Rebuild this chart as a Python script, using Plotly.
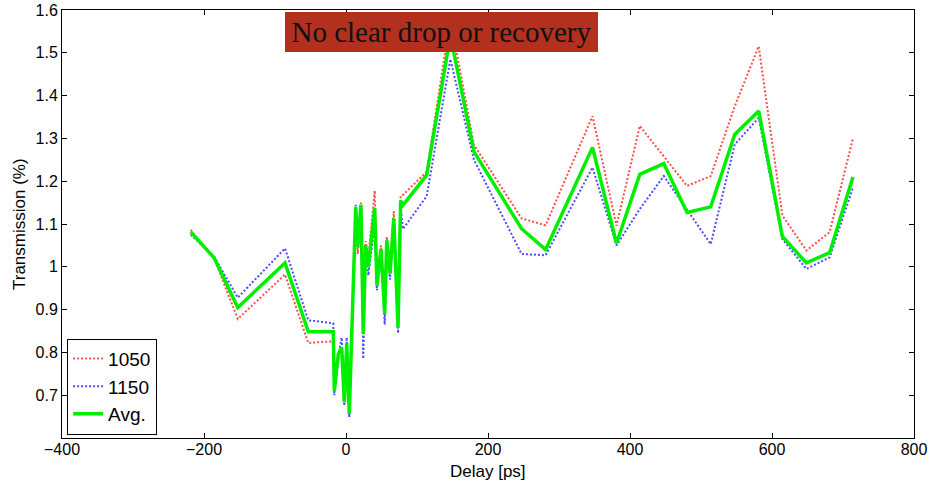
import plotly.graph_objects as go

delay_ps = [-218.6, -185.8, -152.4, -85.9, -53.1, -17.9, -16.5, -10.8, -6.1, -2.4,
            1.0, 4.6, 13.7, 16.5, 21.1, 24.3, 27.7, 31.4, 40.4, 43.6,
            49.3, 54.5, 57.4, 62.0, 67.3, 73.3, 77.0, 80.2, 113.6, 147.0,
            180.2, 247.3, 281.1, 347.2, 381.0, 413.8, 447.6, 480.4, 513.7, 547.5,
            581.3, 614.6, 648.4, 681.2, 714.0]

t_1050 = [1.086, 1.020, 0.878, 0.982, 0.822, 0.826, 0.720, 0.800, 0.800, 0.690,
          0.810, 0.665, 1.130, 1.030, 1.150, 0.900, 1.060, 1.020, 1.178, 0.970,
          1.050, 0.910, 1.070, 1.000, 1.130, 0.865, 1.165, 1.168, 1.222, 1.580,
          1.285, 1.113, 1.097, 1.352, 1.096, 1.329, 1.258, 1.189, 1.212, 1.375,
          1.515, 1.120, 1.038, 1.081, 1.300]

t_1150 = [1.075, 1.024, 0.928, 1.043, 0.875, 0.868, 0.700, 0.790, 0.835, 0.675,
          0.835, 0.648, 1.145, 1.060, 1.140, 0.785, 1.040, 0.980, 1.100, 0.945,
          1.035, 0.865, 1.050, 0.970, 1.100, 0.845, 1.140, 1.088, 1.165, 1.485,
          1.250, 1.030, 1.027, 1.232, 1.050, 1.135, 1.212, 1.132, 1.053, 1.286,
          1.348, 1.065, 0.995, 1.022, 1.185]

t_avg = [1.081, 1.021, 0.905, 1.009, 0.848, 0.848, 0.710, 0.796, 0.812, 0.683,
         0.821, 0.656, 1.140, 1.046, 1.145, 0.843, 1.050, 0.999, 1.138, 0.956,
         1.042, 0.890, 1.062, 0.984, 1.113, 0.858, 1.155, 1.144, 1.214, 1.540,
         1.269, 1.089, 1.040, 1.279, 1.055, 1.216, 1.241, 1.127, 1.140, 1.309,
         1.364, 1.071, 1.009, 1.033, 1.210]

x_ticks = [-400, -200, 0, 200, 400, 600, 800]
y_ticks = [0.7, 0.8, 0.9, 1.0, 1.1, 1.2, 1.3, 1.4, 1.5, 1.6]
y_tick_text = ["0.7", "0.8", "0.9", "1", "1.1", "1.2", "1.3", "1.4", "1.5", "1.6"]

SANS = "Liberation Sans, Arial, sans-serif"

fig = go.Figure()
fig.add_trace(go.Scatter(x=delay_ps, y=t_1050, mode="lines", name="1050",
                         line=dict(color="rgba(255,0,0,0.7)", width=2, dash="2px,2px")))
fig.add_trace(go.Scatter(x=delay_ps, y=t_1150, mode="lines", name="1150",
                         line=dict(color="rgba(0,0,255,0.7)", width=2, dash="2px,2px")))
fig.add_trace(go.Scatter(x=delay_ps, y=t_avg, mode="lines", name="Avg.",
                         line=dict(color="#00ee00", width=3.5)))

axis_common = dict(showline=True, linecolor="black", linewidth=1, mirror="ticks",
                   ticks="inside", ticklen=5, tickcolor="black", tickwidth=1,
                   showgrid=False, zeroline=False, automargin=False,
                   ticklabeloverflow="allow",
                   tickfont=dict(family=SANS, size=16, color="black"))

fig.update_xaxes(range=[-400, 800], tickmode="array", tickvals=x_ticks,
                 ticklabelstandoff=-3, **axis_common)
fig.update_yaxes(range=[0.6, 1.6], tickmode="array", tickvals=y_ticks, ticktext=y_tick_text,
                 **axis_common)

fig.add_annotation(text="Delay [ps]", xref="paper", yref="paper", x=0.5, y=0,
                   xanchor="center", yanchor="middle", yshift=-33, showarrow=False,
                   font=dict(family=SANS, size=17, color="black"))
fig.add_annotation(text="Transmission (%)", xref="paper", yref="paper", x=0, y=0.5,
                   xanchor="center", yanchor="middle", xshift=-43, textangle=-90,
                   showarrow=False, font=dict(family=SANS, size=17, color="black"))

fig.add_annotation(text="No clear drop or recovery", xref="paper", yref="paper",
                   x=0.445, y=0.949, xanchor="center", yanchor="middle",
                   showarrow=False, bgcolor="#B3301E", width=313, height=40,
                   borderpad=0, borderwidth=0,
                   font=dict(family="Liberation Serif, Times New Roman, serif", size=29, color="#111111"))

fig.update_layout(
    width=932, height=484,
    margin=dict(l=62, r=18, t=10, b=46, autoexpand=False),
    paper_bgcolor="white", plot_bgcolor="white",
    showlegend=True,
    legend=dict(x=0.006, y=0.008, xanchor="left", yanchor="bottom",
                bgcolor="white", bordercolor="black", borderwidth=1,
                font=dict(family=SANS, size=19, color="black"),
                tracegroupgap=0, itemwidth=30),
)

# remove the default 8px page margin so the figure fills the window exactly
fig.write_html("out.html", config={"displayModeBar": False},
               post_script="document.body.style.margin='0';")
